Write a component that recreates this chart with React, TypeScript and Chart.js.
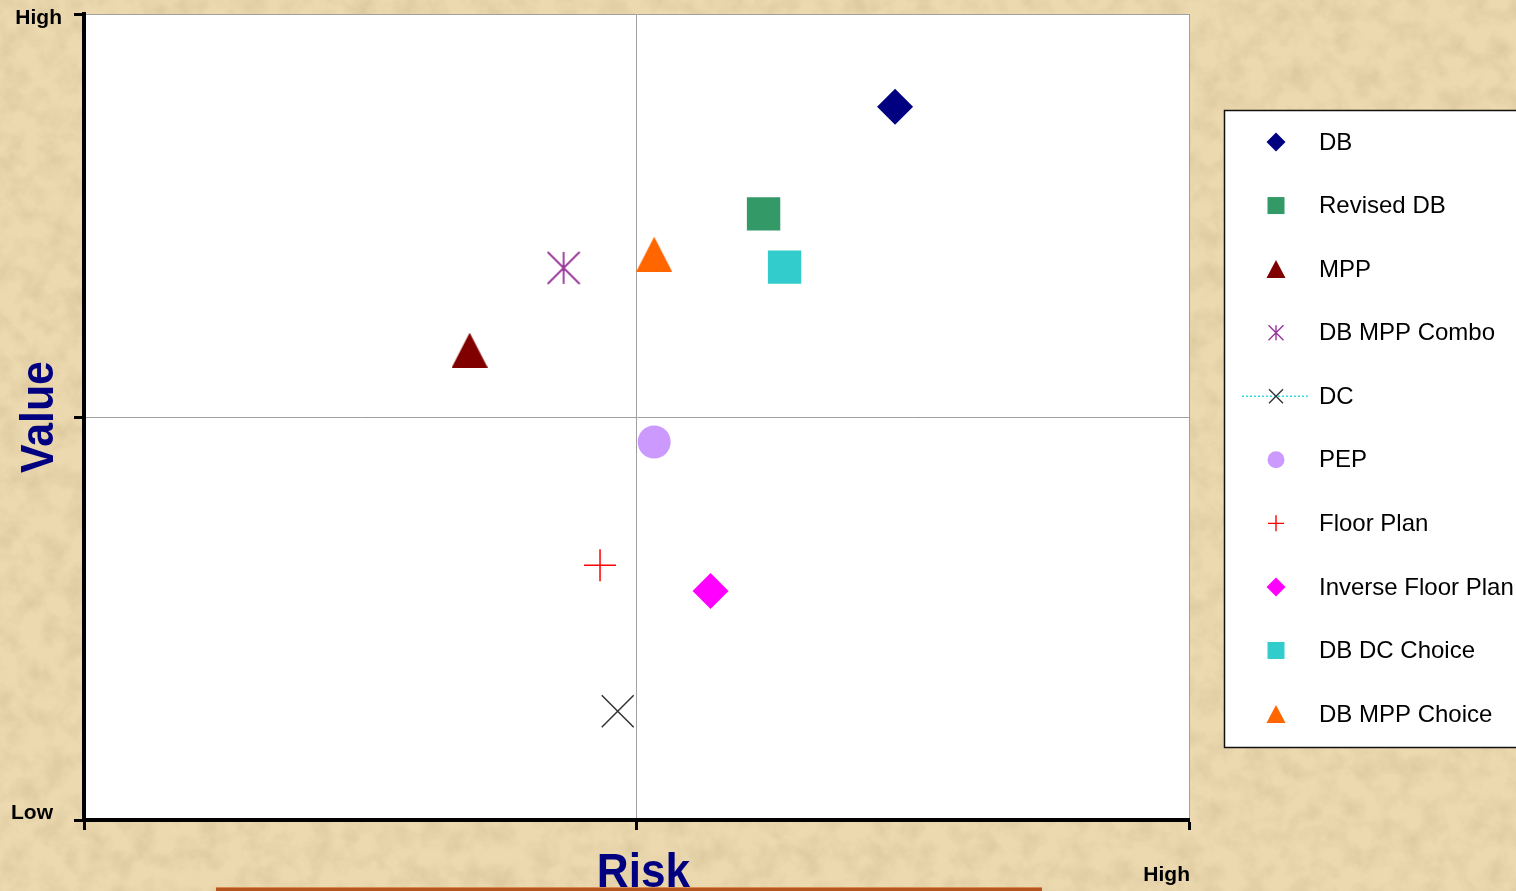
import React, { useEffect, useRef } from 'react';
import { Chart, registerables } from 'chart.js';

Chart.register(...registerables);

// ---- data ----
const seriesNames = ['DB', 'Revised DB', 'MPP', 'DB MPP Combo', 'DC', 'PEP', 'Floor Plan', 'Inverse Floor Plan', 'DB DC Choice', 'DB MPP Choice'];
const riskValues = [7.34, 6.15, 3.49, 4.34, 4.83, 5.16, 4.67, 5.67, 6.34, 5.16];
const valueValues = [8.85, 7.52, 5.83, 6.85, 1.35, 4.69, 3.16, 2.84, 6.86, 7.02];
const seriesColors = ['#000080', '#339966', '#800000', '#993399', '#333333', '#cc99ff', '#ff0000', '#ff00ff', '#33cccc', '#ff6600'];
const markerKinds = ['diamond', 'square', 'triangle', 'asterisk', 'x', 'circle', 'plus', 'diamond', 'square', 'triangle'];

const yLabelValues = [0, 10];
const yLabelTexts = ['Low', 'High'];
const xLabelValues = [10];
const xLabelTexts = ['High'];
const xTitle = 'Risk';
const yTitle = 'Value';

const FONT = '"Liberation Sans", Arial, sans-serif';

function makeTriangle(color: string, w: number, h: number) {
  const c = document.createElement('canvas');
  c.width = w;
  c.height = h;
  const g = c.getContext('2d')!;
  g.fillStyle = color;
  g.beginPath();
  g.moveTo(w / 2, 0);
  g.lineTo(w, h);
  g.lineTo(0, h);
  g.closePath();
  g.fill();
  return c;
}

function makeAsterisk(color: string, s: number, lw: number) {
  const c = document.createElement('canvas');
  c.width = s;
  c.height = s;
  const g = c.getContext('2d')!;
  g.strokeStyle = color;
  g.lineWidth = lw;
  const m = 1;
  g.beginPath();
  g.moveTo(s / 2, m);
  g.lineTo(s / 2, s - m);
  g.moveTo(m, m);
  g.lineTo(s - m, s - m);
  g.moveTo(s - m, m);
  g.lineTo(m, s - m);
  g.stroke();
  return c;
}

function pointSpec(kind: string, color: string): any {
  switch (kind) {
    case 'diamond':
      return { pointStyle: 'rectRot', pointRadius: 18, pointBackgroundColor: color, pointBorderColor: color, pointBorderWidth: 0 };
    case 'square':
      return { pointStyle: 'rect', pointRadius: 23.6, pointBackgroundColor: color, pointBorderColor: color, pointBorderWidth: 0 };
    case 'triangle':
      return { pointStyle: makeTriangle(color, 36, 35), pointRadius: 18, pointBackgroundColor: color, pointBorderColor: color, pointBorderWidth: 0 };
    case 'asterisk':
      return { pointStyle: makeAsterisk(color, 34, 1.8), pointRadius: 17, pointBackgroundColor: color, pointBorderColor: color, pointBorderWidth: 0 };
    case 'x':
      return { pointStyle: 'crossRot', pointRadius: 22.6, pointBackgroundColor: color, pointBorderColor: color, pointBorderWidth: 1.5 };
    case 'circle':
      return { pointStyle: 'circle', pointRadius: 16.5, pointBackgroundColor: color, pointBorderColor: color, pointBorderWidth: 0 };
    case 'plus':
    default:
      return { pointStyle: 'cross', pointRadius: 16, pointBackgroundColor: color, pointBorderColor: color, pointBorderWidth: 1.5 };
  }
}

function drawLegendMarker(ctx: CanvasRenderingContext2D, kind: string, color: string, x: number, y: number) {
  ctx.save();
  ctx.fillStyle = color;
  ctx.strokeStyle = color;
  ctx.lineWidth = 1.4;
  ctx.beginPath();
  switch (kind) {
    case 'diamond':
      ctx.moveTo(x, y - 9.5);
      ctx.lineTo(x + 9.5, y);
      ctx.lineTo(x, y + 9.5);
      ctx.lineTo(x - 9.5, y);
      ctx.closePath();
      ctx.fill();
      break;
    case 'square':
      ctx.fillRect(x - 8.5, y - 8.5, 17, 17);
      break;
    case 'triangle':
      ctx.moveTo(x, y - 9);
      ctx.lineTo(x + 9.5, y + 9);
      ctx.lineTo(x - 9.5, y + 9);
      ctx.closePath();
      ctx.fill();
      break;
    case 'asterisk':
      ctx.moveTo(x, y - 7.5);
      ctx.lineTo(x, y + 7.5);
      ctx.moveTo(x - 7.5, y - 7.5);
      ctx.lineTo(x + 7.5, y + 7.5);
      ctx.moveTo(x + 7.5, y - 7.5);
      ctx.lineTo(x - 7.5, y + 7.5);
      ctx.stroke();
      break;
    case 'x':
      ctx.save();
      ctx.strokeStyle = '#33dddd';
      ctx.setLineDash([2, 2]);
      ctx.beginPath();
      ctx.moveTo(x - 34, y);
      ctx.lineTo(x + 34, y);
      ctx.stroke();
      ctx.restore();
      ctx.beginPath();
      ctx.moveTo(x - 7, y - 7);
      ctx.lineTo(x + 7, y + 7);
      ctx.moveTo(x + 7, y - 7);
      ctx.lineTo(x - 7, y + 7);
      ctx.stroke();
      break;
    case 'circle':
      ctx.arc(x, y, 8.5, 0, Math.PI * 2);
      ctx.fill();
      break;
    case 'plus':
    default:
      ctx.moveTo(x, y - 8);
      ctx.lineTo(x, y + 8);
      ctx.moveTo(x - 8, y);
      ctx.lineTo(x + 8, y);
      ctx.stroke();
      break;
  }
  ctx.restore();
}

const decorPlugin = {
  id: 'decor',
  beforeDraw(chart: any) {
    const { ctx, chartArea: a } = chart;
    ctx.save();
    ctx.fillStyle = '#ffffff';
    ctx.fillRect(a.left, a.top, a.right - a.left, a.bottom - a.top);
    ctx.restore();
  },
  afterDraw(chart: any) {
    const { ctx, chartArea: a } = chart;
    const xs = chart.scales.x;
    const ys = chart.scales.y;
    ctx.save();
    // axis end labels
    ctx.font = `bold 21px ${FONT}`;
    ctx.fillStyle = '#000';
    ctx.textAlign = 'right';
    ctx.textBaseline = 'middle';
    yLabelValues.forEach((v, i) => {
      const p = ys.getPixelForValue(v);
      const atBottom = p > (a.top + a.bottom) / 2;
      const y = atBottom ? p - 7 : p + 4;
      ctx.fillText(yLabelTexts[i], atBottom ? a.left - 31 : a.left - 22, y);
    });
    xLabelValues.forEach((v, i) => {
      const p = xs.getPixelForValue(v);
      ctx.fillText(xLabelTexts[i], p + 1, a.bottom + 55);
    });

    // axis titles
    ctx.fillStyle = '#000080';
    ctx.textAlign = 'center';
    ctx.textBaseline = 'alphabetic';
    ctx.save();
    ctx.font = `bold 48px ${FONT}`;
    ctx.translate((a.left + a.right) / 2 + 7, 887);
    ctx.scale(0.92, 1);
    ctx.fillText(xTitle, 0, 0);
    ctx.restore();
    ctx.save();
    ctx.font = `bold 46px ${FONT}`;
    ctx.translate(53, (a.top + a.bottom) / 2);
    ctx.rotate(-Math.PI / 2);
    ctx.scale(0.93, 1);
    ctx.fillText(yTitle, 0, 0);
    ctx.restore();

    // decorative bar under the title
    ctx.fillStyle = '#b4561e';
    ctx.fillRect(216, 887, 826, 4);
    ctx.fillStyle = '#d98a4e';
    ctx.fillRect(216, 887, 826, 1);

    // legend
    const lx = 1224.5;
    const ly = 110.5;
    ctx.fillStyle = '#ffffff';
    ctx.fillRect(lx, ly, 400, 637);
    ctx.strokeStyle = '#111';
    ctx.lineWidth = 1.5;
    ctx.strokeRect(lx, ly, 400, 637);
    ctx.font = `24px ${FONT}`;
    ctx.textAlign = 'left';
    ctx.textBaseline = 'middle';
    seriesNames.forEach((name, i) => {
      const y = 142 + i * 63.56;
      drawLegendMarker(ctx, markerKinds[i], seriesColors[i], 1276, y);
      ctx.fillStyle = '#000';
      ctx.fillText(name, 1319, y + 1);
    });
    ctx.restore();
  },
};

const noiseSvg = `<svg xmlns='http://www.w3.org/2000/svg' width='1516' height='891'><filter id='n'><feTurbulence type='fractalNoise' baseFrequency='0.045' numOctaves='5' seed='7'/><feColorMatrix values='0 0 0 0 0.6 0 0 0 0 0.46 0 0 0 0 0.24 0.8 0 0 0 -0.3'/></filter><rect width='100%' height='100%' filter='url(#n)'/></svg>`;

export default function App() {
  const ref = useRef<HTMLCanvasElement | null>(null);

  useEffect(() => {
    if (!ref.current) return;
    const datasets = seriesNames.map((name, i) => ({
      label: name,
      data: [{ x: riskValues[i], y: valueValues[i] }],
      showLine: false,
      ...pointSpec(markerKinds[i], seriesColors[i]),
    }));
    const gridColor = (ctx: any) => (ctx.tick && ctx.tick.value > 0 ? '#a0a0a0' : 'rgba(0,0,0,0)');
    const chart = new Chart(ref.current, {
      type: 'scatter',
      data: { datasets },
      plugins: [decorPlugin],
      options: {
        animation: false,
        responsive: false,
        devicePixelRatio: 1,
        events: [],
        layout: { autoPadding: false, padding: { left: 0, top: 14, right: 327, bottom: 0 } },
        plugins: { legend: { display: false }, tooltip: { enabled: false } },
        scales: {
          x: {
            type: 'linear',
            position: 'bottom',
            min: 0,
            max: 10,
            ticks: { stepSize: 5, display: false },
            grid: { color: gridColor, lineWidth: 1, drawTicks: true, tickLength: 10, tickColor: '#000', tickWidth: 3 },
            border: { display: true, color: '#000', width: 4 },
            afterFit: (s: any) => {
              s.height = 71;
            },
          },
          y: {
            type: 'linear',
            position: 'left',
            min: 0,
            max: 10,
            ticks: { stepSize: 5, display: false },
            grid: { color: gridColor, lineWidth: 1, drawTicks: true, tickLength: 10, tickColor: '#000', tickWidth: 3 },
            border: { display: true, color: '#000', width: 4 },
            afterFit: (s: any) => {
              s.width = 84;
            },
          },
        },
      } as any,
    });
    return () => chart.destroy();
  }, []);

  return (
    <div
      style={{
        position: 'fixed',
        left: 0,
        top: 0,
        width: 1516,
        height: 891,
        backgroundColor: '#ecd9b0',
        backgroundImage: `url("data:image/svg+xml,${encodeURIComponent(noiseSvg)}")`,
      }}
    >
      <canvas ref={ref} width={1516} height={891} style={{ display: 'block' }} />
    </div>
  );
}
